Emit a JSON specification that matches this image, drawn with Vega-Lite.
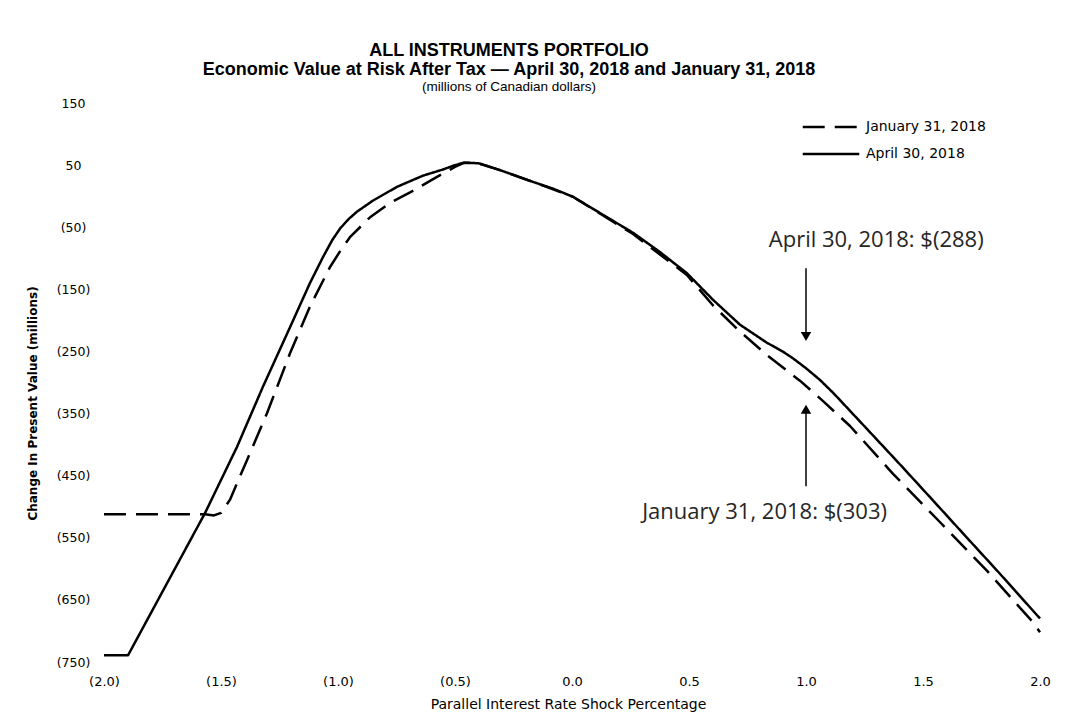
{
  "$schema": "https://vega.github.io/schema/vega-lite/v6.json",
  "width": 936,
  "height": 559,
  "autosize": {"type": "none"},
  "padding": {"left": 104, "top": 103, "right": 36, "bottom": 51},
  "background": "white",
  "config": {"view": {"stroke": null}},
  "title": {
    "text": ["ALL INSTRUMENTS  PORTFOLIO", "Economic Value at Risk After Tax — April 30, 2018 and January 31, 2018"],
    "subtitle": "(millions of Canadian dollars)",
    "font": "Liberation Sans",
    "fontSize": 18,
    "fontWeight": "bold",
    "lineHeight": 19,
    "subtitleFont": "Liberation Sans",
    "subtitleFontSize": 13.5,
    "subtitleColor": "black",
    "subtitlePadding": 1,
    "color": "black",
    "anchor": "middle",
    "dx": -63,
    "dy": 3,
    "offset": 7
  },
  "datasets": {
    "curves": [
      {"series": "April 30, 2018", "x": -2.0, "v": -739},
      {"series": "April 30, 2018", "x": -1.897, "v": -739},
      {"series": "April 30, 2018", "x": -1.568, "v": -510},
      {"series": "April 30, 2018", "x": -1.432, "v": -404},
      {"series": "April 30, 2018", "x": -1.321, "v": -307},
      {"series": "April 30, 2018", "x": -1.205, "v": -211},
      {"series": "April 30, 2018", "x": -1.12, "v": -140},
      {"series": "April 30, 2018", "x": -1.064, "v": -98},
      {"series": "April 30, 2018", "x": -1.025, "v": -71},
      {"series": "April 30, 2018", "x": -0.991, "v": -52},
      {"series": "April 30, 2018", "x": -0.955, "v": -37},
      {"series": "April 30, 2018", "x": -0.919, "v": -25},
      {"series": "April 30, 2018", "x": -0.85, "v": -7},
      {"series": "April 30, 2018", "x": -0.748, "v": 15},
      {"series": "April 30, 2018", "x": -0.637, "v": 33},
      {"series": "April 30, 2018", "x": -0.551, "v": 43},
      {"series": "April 30, 2018", "x": -0.5, "v": 50},
      {"series": "April 30, 2018", "x": -0.46, "v": 54},
      {"series": "April 30, 2018", "x": -0.4, "v": 53},
      {"series": "April 30, 2018", "x": -0.308, "v": 42},
      {"series": "April 30, 2018", "x": -0.167, "v": 23},
      {"series": "April 30, 2018", "x": -0.08, "v": 12},
      {"series": "April 30, 2018", "x": 0.004, "v": -1},
      {"series": "April 30, 2018", "x": 0.15, "v": -34},
      {"series": "April 30, 2018", "x": 0.261, "v": -59},
      {"series": "April 30, 2018", "x": 0.376, "v": -90},
      {"series": "April 30, 2018", "x": 0.491, "v": -124},
      {"series": "April 30, 2018", "x": 0.603, "v": -167},
      {"series": "April 30, 2018", "x": 0.718, "v": -207},
      {"series": "April 30, 2018", "x": 0.833, "v": -236},
      {"series": "April 30, 2018", "x": 0.9, "v": -250},
      {"series": "April 30, 2018", "x": 0.944, "v": -261},
      {"series": "April 30, 2018", "x": 1.0, "v": -277},
      {"series": "April 30, 2018", "x": 1.06, "v": -296},
      {"series": "April 30, 2018", "x": 1.117, "v": -317},
      {"series": "April 30, 2018", "x": 1.261, "v": -375},
      {"series": "April 30, 2018", "x": 1.402, "v": -432},
      {"series": "April 30, 2018", "x": 1.543, "v": -490},
      {"series": "April 30, 2018", "x": 1.688, "v": -550},
      {"series": "April 30, 2018", "x": 1.829, "v": -608},
      {"series": "April 30, 2018", "x": 2.0, "v": -680},
      {"series": "January 31, 2018", "x": -2.0, "v": -512},
      {"series": "January 31, 2018", "x": -1.568, "v": -512},
      {"series": "January 31, 2018", "x": -1.53, "v": -514},
      {"series": "January 31, 2018", "x": -1.5, "v": -510},
      {"series": "January 31, 2018", "x": -1.462, "v": -489},
      {"series": "January 31, 2018", "x": -1.389, "v": -425},
      {"series": "January 31, 2018", "x": -1.303, "v": -349},
      {"series": "January 31, 2018", "x": -1.205, "v": -253},
      {"series": "January 31, 2018", "x": -1.12, "v": -178},
      {"series": "January 31, 2018", "x": -1.034, "v": -114},
      {"series": "January 31, 2018", "x": -0.99, "v": -88},
      {"series": "January 31, 2018", "x": -0.949, "v": -66},
      {"series": "January 31, 2018", "x": -0.863, "v": -34},
      {"series": "January 31, 2018", "x": -0.778, "v": -11},
      {"series": "January 31, 2018", "x": -0.692, "v": 6},
      {"series": "January 31, 2018", "x": -0.577, "v": 31},
      {"series": "January 31, 2018", "x": -0.5, "v": 47},
      {"series": "January 31, 2018", "x": -0.46, "v": 54},
      {"series": "January 31, 2018", "x": -0.4, "v": 53},
      {"series": "January 31, 2018", "x": -0.308, "v": 42},
      {"series": "January 31, 2018", "x": -0.167, "v": 23},
      {"series": "January 31, 2018", "x": 0.004, "v": -1},
      {"series": "January 31, 2018", "x": 0.261, "v": -61},
      {"series": "January 31, 2018", "x": 0.491, "v": -127},
      {"series": "January 31, 2018", "x": 0.603, "v": -176},
      {"series": "January 31, 2018", "x": 0.718, "v": -218},
      {"series": "January 31, 2018", "x": 0.833, "v": -256},
      {"series": "January 31, 2018", "x": 0.974, "v": -297},
      {"series": "January 31, 2018", "x": 1.073, "v": -330},
      {"series": "January 31, 2018", "x": 1.188, "v": -370},
      {"series": "January 31, 2018", "x": 1.372, "v": -447},
      {"series": "January 31, 2018", "x": 1.573, "v": -525},
      {"series": "January 31, 2018", "x": 1.773, "v": -603},
      {"series": "January 31, 2018", "x": 1.97, "v": -686},
      {"series": "January 31, 2018", "x": 2.0, "v": -702}
    ],
    "notes": [
      {"label": "April 30, 2018: $(288)", "x": 1.3, "v": -71},
      {"label": "January 31, 2018: $(303)", "x": 0.823, "v": -509}
    ],
    "arrows": [
      {"x": 1.0, "from": -116, "to": -222, "tip": -226, "dir": "down"},
      {"x": 1.0, "from": -467, "to": -348, "tip": -343, "dir": "up"}
    ]
  },
  "layer": [
    {
      "data": {"name": "curves"},
      "mark": {"type": "line", "color": "black", "strokeWidth": 2.5, "interpolate": "linear", "strokeJoin": "round"},
      "encoding": {
        "x": {
          "field": "x", "type": "quantitative",
          "scale": {"domain": [-2, 2], "nice": false, "zero": false},
          "axis": {
            "values": [-2, -1.5, -1, -0.5, 0, 0.5, 1, 1.5, 2],
            "labelExpr": "datum.value < 0 ? '(' + format(-datum.value, '.1f') + ')' : format(datum.value, '.1f')",
            "domain": false, "ticks": false, "tickSize": 0, "grid": false,
            "labelFont": "DejaVu Sans", "labelFontSize": 13, "labelColor": "black",
            "labelPadding": 13, "labelFlush": false, "labelOverlap": false,
            "title": "Parallel Interest Rate Shock Percentage",
            "titleFont": "DejaVu Sans", "titleFontSize": 14, "titleFontWeight": "normal", "titleColor": "black",
            "titleX": 464, "titleY": 42, "titleBaseline": "middle", "titleAnchor": null
          }
        },
        "y": {
          "field": "v", "type": "quantitative",
          "scale": {"domain": [-750, 150], "nice": false, "zero": false},
          "axis": {
            "values": [150, 50, -50, -150, -250, -350, -450, -550, -650, -750],
            "labelExpr": "datum.value < 0 ? '(' + format(-datum.value, 'd') + ')' : format(datum.value, 'd')",
            "domain": false, "ticks": false, "tickSize": 0, "grid": false,
            "labelFont": "DejaVu Sans", "labelFontSize": 12.5, "labelColor": "black",
            "labelAlign": "center", "labelPadding": 31, "labelFlush": false, "labelOverlap": false,
            "title": "Change In Present Value (millions)",
            "titleFont": "DejaVu Sans", "titleFontSize": 12, "titleFontWeight": "bold", "titleColor": "black",
            "titleX": -72, "titleY": 300, "titleAngle": -90, "titleAlign": "center", "titleBaseline": "middle"
          }
        },
        "strokeDash": {
          "field": "series", "type": "nominal",
          "scale": {"domain": ["January 31, 2018", "April 30, 2018"], "range": [[22, 10], [1, 0]]},
          "legend": {
            "title": null, "orient": "none", "legendX": 697, "legendY": 16,
            "symbolType": "stroke", "symbolSize": 3200, "symbolStrokeWidth": 2.5, "symbolStrokeColor": "black",
            "clipHeight": 16, "rowPadding": 11,
            "labelFont": "DejaVu Sans", "labelFontSize": 14, "labelColor": "black", "labelOffset": 5
          }
        }
      }
    },
    {
      "data": {"name": "arrows"},
      "mark": {"type": "rule", "color": "black", "strokeWidth": 1.5},
      "encoding": {
        "x": {"field": "x", "type": "quantitative"},
        "y": {"field": "from", "type": "quantitative"},
        "y2": {"field": "to"}
      }
    },
    {
      "data": {"name": "arrows"},
      "mark": {"type": "point", "filled": true, "color": "black", "opacity": 1, "size": 110},
      "encoding": {
        "x": {"field": "x", "type": "quantitative"},
        "y": {"field": "tip", "type": "quantitative"},
        "shape": {"field": "dir", "type": "nominal", "scale": {"domain": ["down", "up"], "range": ["triangle-down", "triangle-up"]}, "legend": null}
      }
    },
    {
      "data": {"name": "notes"},
      "mark": {"type": "text", "font": "Open Sans", "fontSize": 22, "color": "#262626", "align": "center", "baseline": "middle"},
      "encoding": {
        "x": {"field": "x", "type": "quantitative"},
        "y": {"field": "v", "type": "quantitative"},
        "text": {"field": "label"}
      }
    }
  ]
}
